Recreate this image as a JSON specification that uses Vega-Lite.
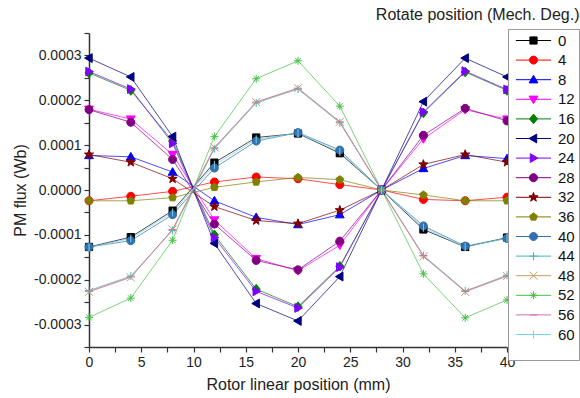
{
  "$schema": "https://vega.github.io/schema/vega-lite/v6.json",
  "width": 418,
  "height": 314,
  "autosize": "none",
  "padding": {"left": 89, "top": 33, "right": 73, "bottom": 51},
  "background": "white",
  "title": {"text": "Rotate position (Mech. Deg.)", "anchor": "end", "frame": "bounds", "font": "Liberation Sans", "fontSize": 16, "fontWeight": "normal", "color": "#222", "offset": 3},
  "config": {"view": {"stroke": null}, "font": "Liberation Sans"},
  "datasets": {
    "flux": [
      {"deg":0,"x":0,"flux":-0.000127},{"deg":0,"x":4,"flux":-0.000105},{"deg":0,"x":8,"flux":-0.000046},{"deg":0,"x":12,"flux":0.000061},{"deg":0,"x":16,"flux":0.000117},{"deg":0,"x":20,"flux":0.000126},{"deg":0,"x":24,"flux":0.000082},{"deg":0,"x":28,"flux":0},{"deg":0,"x":32,"flux":-0.000088},{"deg":0,"x":36,"flux":-0.000127},{"deg":0,"x":40,"flux":-0.000106},
      {"deg":4,"x":0,"flux":-0.000024},{"deg":4,"x":4,"flux":-0.000014},{"deg":4,"x":8,"flux":-0.000003},{"deg":4,"x":12,"flux":0.000018},{"deg":4,"x":16,"flux":0.000029},{"deg":4,"x":20,"flux":0.000025},{"deg":4,"x":24,"flux":0.000012},{"deg":4,"x":28,"flux":0},{"deg":4,"x":32,"flux":-0.000021},{"deg":4,"x":36,"flux":-0.000024},{"deg":4,"x":40,"flux":-0.000016},
      {"deg":8,"x":0,"flux":0.000077},{"deg":8,"x":4,"flux":0.000074},{"deg":8,"x":8,"flux":0.00004},{"deg":8,"x":12,"flux":-0.000024},{"deg":8,"x":16,"flux":-0.000061},{"deg":8,"x":20,"flux":-0.000077},{"deg":8,"x":24,"flux":-0.000055},{"deg":8,"x":28,"flux":0},{"deg":8,"x":32,"flux":0.000048},{"deg":8,"x":36,"flux":0.000077},{"deg":8,"x":40,"flux":0.00007},
      {"deg":12,"x":0,"flux":0.00018},{"deg":12,"x":4,"flux":0.000158},{"deg":12,"x":8,"flux":0.000079},{"deg":12,"x":12,"flux":-0.000067},{"deg":12,"x":16,"flux":-0.000153},{"deg":12,"x":20,"flux":-0.00018},{"deg":12,"x":24,"flux":-0.000123},{"deg":12,"x":28,"flux":0},{"deg":12,"x":32,"flux":0.000114},{"deg":12,"x":36,"flux":0.000179},{"deg":12,"x":40,"flux":0.000158},
      {"deg":16,"x":0,"flux":0.000261},{"deg":16,"x":4,"flux":0.000222},{"deg":16,"x":8,"flux":0.000109},{"deg":16,"x":12,"flux":-0.0001},{"deg":16,"x":16,"flux":-0.000221},{"deg":16,"x":20,"flux":-0.00026},{"deg":16,"x":24,"flux":-0.00017},{"deg":16,"x":28,"flux":0},{"deg":16,"x":32,"flux":0.000172},{"deg":16,"x":36,"flux":0.000263},{"deg":16,"x":40,"flux":0.000222},
      {"deg":20,"x":0,"flux":0.000294},{"deg":20,"x":4,"flux":0.000252},{"deg":20,"x":8,"flux":0.000119},{"deg":20,"x":12,"flux":-0.000119},{"deg":20,"x":16,"flux":-0.000253},{"deg":20,"x":20,"flux":-0.000292},{"deg":20,"x":24,"flux":-0.000193},{"deg":20,"x":28,"flux":0},{"deg":20,"x":32,"flux":0.000197},{"deg":20,"x":36,"flux":0.000294},{"deg":20,"x":40,"flux":0.000252},
      {"deg":24,"x":0,"flux":0.000264},{"deg":24,"x":4,"flux":0.000225},{"deg":24,"x":8,"flux":0.000104},{"deg":24,"x":12,"flux":-0.000106},{"deg":24,"x":16,"flux":-0.000226},{"deg":24,"x":20,"flux":-0.000263},{"deg":24,"x":24,"flux":-0.000172},{"deg":24,"x":28,"flux":0},{"deg":24,"x":32,"flux":0.000174},{"deg":24,"x":36,"flux":0.000265},{"deg":24,"x":40,"flux":0.000224},
      {"deg":28,"x":0,"flux":0.000179},{"deg":28,"x":4,"flux":0.000151},{"deg":28,"x":8,"flux":0.000068},{"deg":28,"x":12,"flux":-0.000076},{"deg":28,"x":16,"flux":-0.000157},{"deg":28,"x":20,"flux":-0.000178},{"deg":28,"x":24,"flux":-0.000114},{"deg":28,"x":28,"flux":0},{"deg":28,"x":32,"flux":0.000122},{"deg":28,"x":36,"flux":0.000182},{"deg":28,"x":40,"flux":0.000154},
      {"deg":32,"x":0,"flux":0.000079},{"deg":32,"x":4,"flux":0.000062},{"deg":32,"x":8,"flux":0.000025},{"deg":32,"x":12,"flux":-0.000037},{"deg":32,"x":16,"flux":-0.000068},{"deg":32,"x":20,"flux":-0.000075},{"deg":32,"x":24,"flux":-0.000045},{"deg":32,"x":28,"flux":0},{"deg":32,"x":32,"flux":0.000057},{"deg":32,"x":36,"flux":0.000079},{"deg":32,"x":40,"flux":0.000062},
      {"deg":36,"x":0,"flux":-0.000024},{"deg":36,"x":4,"flux":-0.000024},{"deg":36,"x":8,"flux":-0.000017},{"deg":36,"x":12,"flux":0.000006},{"deg":36,"x":16,"flux":0.000018},{"deg":36,"x":20,"flux":0.000028},{"deg":36,"x":24,"flux":0.000023},{"deg":36,"x":28,"flux":0},{"deg":36,"x":32,"flux":-0.000011},{"deg":36,"x":36,"flux":-0.000024},{"deg":36,"x":40,"flux":-0.000024},
      {"deg":40,"x":0,"flux":-0.000127},{"deg":40,"x":4,"flux":-0.000113},{"deg":40,"x":8,"flux":-0.000055},{"deg":40,"x":12,"flux":0.000049},{"deg":40,"x":16,"flux":0.000109},{"deg":40,"x":20,"flux":0.000128},{"deg":40,"x":24,"flux":0.000089},{"deg":40,"x":28,"flux":0},{"deg":40,"x":32,"flux":-0.00008},{"deg":40,"x":36,"flux":-0.000125},{"deg":40,"x":40,"flux":-0.000108},
      {"deg":44,"x":0,"flux":-0.000224},{"deg":44,"x":4,"flux":-0.000192},{"deg":44,"x":8,"flux":-0.00009},{"deg":44,"x":12,"flux":0.000092},{"deg":44,"x":16,"flux":0.000194},{"deg":44,"x":20,"flux":0.000225},{"deg":44,"x":24,"flux":0.00015},{"deg":44,"x":28,"flux":0},{"deg":44,"x":32,"flux":-0.000146},{"deg":44,"x":36,"flux":-0.000225},{"deg":44,"x":40,"flux":-0.00019},
      {"deg":48,"x":0,"flux":-0.000227},{"deg":48,"x":4,"flux":-0.000195},{"deg":48,"x":8,"flux":-0.000088},{"deg":48,"x":12,"flux":0.000095},{"deg":48,"x":16,"flux":0.000196},{"deg":48,"x":20,"flux":0.000227},{"deg":48,"x":24,"flux":0.000152},{"deg":48,"x":28,"flux":0},{"deg":48,"x":32,"flux":-0.000148},{"deg":48,"x":36,"flux":-0.000227},{"deg":48,"x":40,"flux":-0.000192},
      {"deg":52,"x":0,"flux":-0.000284},{"deg":52,"x":4,"flux":-0.000241},{"deg":52,"x":8,"flux":-0.000112},{"deg":52,"x":12,"flux":0.000119},{"deg":52,"x":16,"flux":0.000248},{"deg":52,"x":20,"flux":0.000288},{"deg":52,"x":24,"flux":0.000187},{"deg":52,"x":28,"flux":0},{"deg":52,"x":32,"flux":-0.000187},{"deg":52,"x":36,"flux":-0.000285},{"deg":52,"x":40,"flux":-0.000245},
      {"deg":56,"x":0,"flux":-0.000226},{"deg":56,"x":4,"flux":-0.000194},{"deg":56,"x":8,"flux":-0.000088},{"deg":56,"x":12,"flux":0.000094},{"deg":56,"x":16,"flux":0.000196},{"deg":56,"x":20,"flux":0.000227},{"deg":56,"x":24,"flux":0.000152},{"deg":56,"x":28,"flux":0},{"deg":56,"x":32,"flux":-0.000147},{"deg":56,"x":36,"flux":-0.000226},{"deg":56,"x":40,"flux":-0.000192},
      {"deg":60,"x":0,"flux":-0.000128},{"deg":60,"x":4,"flux":-0.000108},{"deg":60,"x":8,"flux":-0.00005},{"deg":60,"x":12,"flux":0.000056},{"deg":60,"x":16,"flux":0.000113},{"deg":60,"x":20,"flux":0.000127},{"deg":60,"x":24,"flux":0.000085},{"deg":60,"x":28,"flux":0},{"deg":60,"x":32,"flux":-0.000084},{"deg":60,"x":36,"flux":-0.000127},{"deg":60,"x":40,"flux":-0.000107}
    ]
  },
  "data": {"name": "flux"},
  "encoding": {
    "x": {
      "field": "x", "type": "quantitative",
      "scale": {"domain": [0, 40], "nice": false, "zero": false},
      "axis": {
        "title": "Rotor linear position (mm)",
        "values": [0,2.5,5,7.5,10,12.5,15,17.5,20,22.5,25,27.5,30,32.5,35,37.5,40],
        "labelExpr": "datum.value % 5 == 0 ? format(datum.value, 'd') : ''",
        "grid": false, "domainColor": "#333", "domainWidth": 1.5, "tickColor": "#333", "tickWidth": 1.2, "tickSize": 5,
        "labelFont": "Liberation Sans", "labelFontSize": 14, "labelColor": "#222", "labelPadding": 3, "labelOverlap": false, "labelFlush": false,
        "titleFont": "Liberation Sans", "titleFontSize": 16, "titleFontWeight": "normal", "titleColor": "#222", "titlePadding": 7,
        "encode": {"ticks": {"update": {"y2": {"signal": "datum.value % 5 == 0 ? 5 : 3"}}}}
      }
    },
    "y": {
      "field": "flux", "type": "quantitative",
      "scale": {"domain": [-0.00035, 0.00035], "nice": false, "zero": false},
      "axis": {
        "title": "PM flux (Wb)",
        "values": [-0.00035,-0.0003,-0.00025,-0.0002,-0.00015,-0.0001,-0.00005,0,0.00005,0.0001,0.00015,0.0002,0.00025,0.0003,0.00035],
        "labelExpr": "round(datum.value*20000) % 2 == 0 ? replace(format(datum.value, '.4f'), '\u2212', '-') : ''",
        "grid": false, "domainColor": "#333", "domainWidth": 1.5, "tickColor": "#333", "tickWidth": 1.2, "tickSize": 5,
        "labelFont": "Liberation Sans", "labelFontSize": 14, "labelColor": "#222", "labelPadding": 3, "labelOverlap": false, "labelFlush": false,
        "titleFont": "Liberation Sans", "titleFontSize": 16, "titleFontWeight": "normal", "titleColor": "#222", "titlePadding": 5,
        "encode": {"ticks": {"update": {"x2": {"signal": "round(datum.value*20000) % 2 == 0 ? -5 : -3"}}}}
      }
    }
  },
  "layer": [
    {
      "mark": {"type": "line", "strokeWidth": 1, "opacity": 0.7},
      "encoding": {
        "stroke": {
          "field": "deg", "type": "nominal",
          "scale": {"domain": [0,4,8,12,16,20,24,28,32,36,40,44,48,52,56,60], "range": ["#000000","#FF0000","#0000FF","#FF00FF","#008000","#000080","#8000FF","#800080","#800000","#808000","#3370B0","#40B8B8","#C89A6A","#44C044","#D070A8","#6FD6E6"]},
          "legend": {
            "title": " ", "titleOrient": "bottom", "titleFontSize": 10, "titlePadding": 3,
            "orient": "none", "legendX": 419, "legendY": -4,
            "padding": 4, "strokeColor": "#999", "fillColor": "white",
            "labelFont": "Liberation Sans", "labelFontSize": 15, "labelColor": "#111",
            "symbolSize": 64, "symbolOffset": 14, "labelOffset": 17, "rowPadding": 3.6,
            "symbolOpacity": 1, "symbolStrokeWidth": 1,
            "symbolType": {"expr": "'M-4.4,0H4.4' + scale('shape', datum.value)"}
          }
        }
      }
    },
    {
      "mark": {"type": "point", "filled": true, "size": 64, "strokeWidth": 1, "opacity": 1},
      "encoding": {
        "stroke": {"field": "deg", "type": "nominal",
          "legend": {
            "title": " ", "titleOrient": "bottom", "titleFontSize": 10, "titlePadding": 3,
            "orient": "none", "legendX": 419, "legendY": -4,
            "padding": 4, "strokeColor": "#999", "fillColor": "white",
            "labelFont": "Liberation Sans", "labelFontSize": 15, "labelColor": "#111",
            "symbolSize": 64, "symbolOffset": 14, "labelOffset": 17, "rowPadding": 3.6,
            "symbolOpacity": 1, "symbolStrokeWidth": 1,
            "symbolType": {"expr": "'M-4.4,0H4.4' + scale('shape', datum.value)"}
          }
        },
        "fill": {
          "field": "deg", "type": "nominal",
          "scale": {"domain": [0,4,8,12,16,20,24,28,32,36,40,44,48,52,56,60], "range": ["#000000","#FF0000","#0000FF","#FF00FF","#008000","#000080","#8000FF","#800080","#800000","#808000","#3370B0","#40B8B8","#C89A6A","#44C044","#D070A8","#6FD6E6"]},
          "legend": {
            "title": " ", "titleOrient": "bottom", "titleFontSize": 10, "titlePadding": 3,
            "orient": "none", "legendX": 419, "legendY": -4,
            "padding": 4, "strokeColor": "#999", "fillColor": "white",
            "labelFont": "Liberation Sans", "labelFontSize": 15, "labelColor": "#111",
            "symbolSize": 64, "symbolOffset": 14, "labelOffset": 17, "rowPadding": 3.6,
            "symbolOpacity": 1, "symbolStrokeWidth": 1,
            "symbolType": {"expr": "'M-4.4,0H4.4' + scale('shape', datum.value)"}
          }
        },
        "shape": {
          "field": "deg", "type": "nominal",
          "scale": {"range": [
            "M-0.9,-0.9H0.9V0.9H-0.9Z",
            "M-1,0A1,1,0,1,1,1,0A1,1,0,1,1,-1,0Z",
            "M0,-1.1L1.1,0.8H-1.1Z",
            "M0,1.1L1.1,-0.8H-1.1Z",
            "M0,-1.2L1,0L0,1.2L-1,0Z",
            "M-1.1,0L0.8,-1.1V1.1Z",
            "M1.1,0L-0.8,-1.1V1.1Z",
            "M-1,0A1,1,0,1,1,1,0A1,1,0,1,1,-1,0Z",
            "M0,-1.2L0.28,-0.39L1.14,-0.37L0.46,0.15L0.71,0.97L0,0.48L-0.71,0.97L-0.46,0.15L-1.14,-0.37L-0.28,-0.39Z",
            "M0,-1L0.95,-0.31L0.59,0.81L-0.59,0.81L-0.95,-0.31Z",
            "M-1,0A1,1,0,1,1,1,0A1,1,0,1,1,-1,0Z",
            "M-1,0H1M0,-1V1",
            "M-1,-1L1,1M-1,1L1,-1",
            "M-1,0H1M0,-1V1M-0.7,-0.7L0.7,0.7M-0.7,0.7L0.7,-0.7",
            "M-1,0H1",
            "M0,-1V1"
          ]},
          "legend": null
        }
      }
    }
  ]
}
